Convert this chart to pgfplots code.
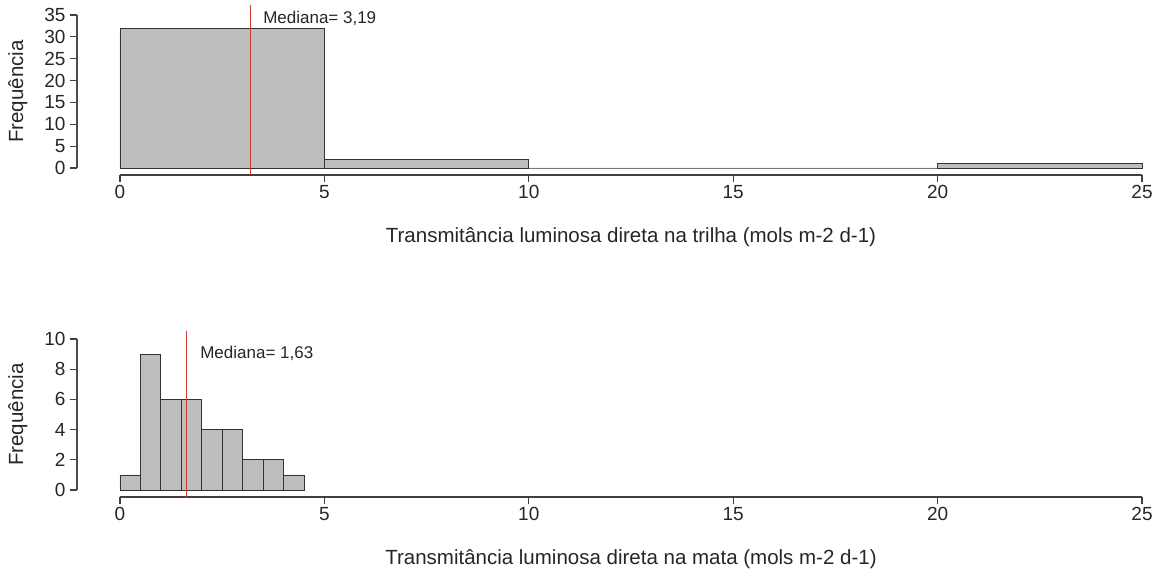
\documentclass[border=0pt]{standalone}
\usepackage{fontspec}
\setmainfont{Liberation Sans}
\usepackage{pgfplots}
\pgfplotsset{compat=1.18}

\definecolor{rgray}{RGB}{190,190,190}
\definecolor{medred}{RGB}{205,60,50}

\tikzset{yline/.style={draw=black!70, line width=1.6pt}}

\pgfplotsset{
  rhist/.style={
    scale only axis,
    width=1022pt,
    xmin=0, xmax=25,
    ymin=0,
    axis x line*=bottom,
    axis y line*=left,
    axis x line shift=7pt,
    axis y line shift=43pt,
    xtick={0,5,...,25},
    tick align=outside,
    major tick length=7pt,
    axis line style={black!75, line width=1.2pt},
    tick style={black!75, line width=1.2pt},
    /pgf/number format/assume math mode=true,
    ticklabel style={font=\fontsize{19}{19}\selectfont, text=black!85},
    yticklabel style={xshift=-1pt},
    label style={font=\fontsize{20.5}{20.5}\selectfont, text=black!85},
    xlabel style={yshift=-22pt},
    ylabel style={yshift=10pt},
    ylabel={Frequência},
    clip=false,
  },
  bars/.style={ybar interval, fill=rgray, draw=black!80, line width=0.8pt},
}

\begin{document}
\begin{tikzpicture}
\path[use as bounding box] (-120pt,-404pt) rectangle (1042pt,168pt);

% painel superior: trilha
\begin{axis}[rhist, at={(0pt,0pt)}, anchor=origin,
    height=153pt, ymax=35, ytick={0,5,...,35},
    xlabel={Transmitância luminosa direta na trilha (mols m-2 d-1)}]
\addplot[bars] coordinates {
    (0,32) (5,2) (10,0) (15,0) (20,1) (25,1)
};
% eixo y (estilo R, afastado das barras)
\draw[yline] (axis cs:-1.052,0) -- (axis cs:-1.052,35);
\draw[medred, line width=0.8pt] (axis cs:3.19,-1.6) -- (axis cs:3.19,37.3);
\node[anchor=west, font=\fontsize{17}{17}\selectfont, text=black!85, inner sep=0pt]
    at (axis cs:3.5,34.3) {Mediana= 3,19};
\end{axis}

% painel inferior: mata
\begin{axis}[rhist, at={(0pt,-322pt)}, anchor=origin,
    height=151pt, ymax=10, ytick={0,2,...,10},
    xlabel={Transmitância luminosa direta na mata (mols m-2 d-1)}]
\addplot[bars] coordinates {
    (0,1) (0.5,9) (1,6) (1.5,6) (2,4) (2.5,4) (3,2) (3.5,2) (4,1) (4.5,1)
};
\draw[yline] (axis cs:-1.052,0) -- (axis cs:-1.052,10);
\draw[medred, line width=0.8pt] (axis cs:1.63,-0.5) -- (axis cs:1.63,10.5);
\node[anchor=west, font=\fontsize{17}{17}\selectfont, text=black!85, inner sep=0pt]
    at (axis cs:1.96,9.07) {Mediana= 1,63};
\end{axis}
\end{tikzpicture}
\end{document}
